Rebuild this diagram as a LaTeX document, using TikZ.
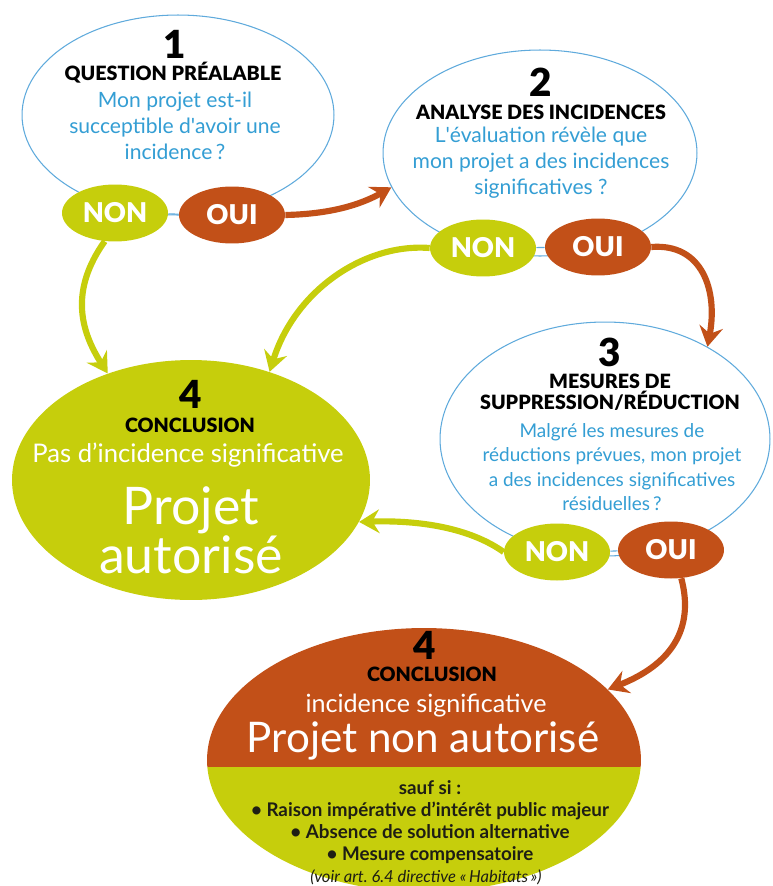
\documentclass[tikz,border=0pt]{standalone}
\usepackage{fontspec}
\setmainfont{Lato}
\newfontfamily\heavyfont{Lato Black}
\usetikzlibrary{positioning, shapes.geometric, arrows.meta, calc}

\definecolor{nongreen}{RGB}{198,206,12}
\definecolor{ouired}{RGB}{194,80,24}
\definecolor{lineblue}{RGB}{95,170,220}
\definecolor{askblue}{RGB}{52,158,212}
\definecolor{darktext}{RGB}{30,30,20}

\tikzset{
    question/.style={ellipse, draw=lineblue, line width=0.6pt, fill=white, inner sep=0pt},
    answer/.style={ellipse, text=white, inner sep=0pt, minimum width=2.12cm, minimum height=1.14cm, font=\heavyfont\fontsize{15.5}{15.5}\selectfont},
    nonbox/.style={answer, fill=nongreen},
    ouibox/.style={answer, fill=ouired},
    stepnum/.style={font=\heavyfont\fontsize{22}{22}\selectfont, inner sep=0pt, text depth=0pt},
    heading/.style={font=\heavyfont\fontsize{11.2}{11.8}\selectfont, align=center, inner sep=0pt},
    ask/.style={text=askblue, align=center, inner sep=0pt, font=\fontsize{12}{14.8}\selectfont},
    flow/.style={line width=3.5pt, -{Stealth[length=11.5pt, width=13.5pt, inset=4pt]}},
    flowgreen/.style={flow, draw=nongreen},
    flowred/.style={flow, draw=ouired},
    joinline/.style={draw=lineblue, line width=0.6pt}
}

\begin{document}
\begin{tikzpicture}[x=0.02cm, y=-0.02cm]
    \useasboundingbox (0,0) rectangle (772,886);

    %Question ellipses
    \node[question, minimum width=6.24cm, minimum height=4cm] (q1) at (178,115) {};
    \node[question, minimum width=6.28cm, minimum height=4.12cm] (q2) at (540,153) {};
    \node[question, minimum width=6.6cm, minimum height=4.68cm] (q3) at (605,439) {};

    %Conclusion: authorised
    \node[ellipse, fill=nongreen, minimum width=7.16cm, minimum height=4.8cm, inner sep=0pt] (ok) at (191,480) {};

    %Conclusion: not authorised
    \node[ellipse, minimum width=8.68cm, minimum height=5.28cm, inner sep=0pt] (no) at (424,760) {};
    \begin{scope}
        \clip (424,760) ellipse [x radius=4.34cm, y radius=2.64cm];
        \fill[ouired] (200,620) rectangle (650,767);
        \fill[nongreen] (200,767) rectangle (650,900);
    \end{scope}

    %Texts 1
    \node[stepnum] (num1) at (175,44) {1};
    \node[heading] (head1) at (173,73) {QUESTION PRÉALABLE};
    \node[ask] (ask1) at (175,126) {Mon projet est-il\\succeptible d\textquotesingle avoir une\\incidence\,?};

    %Texts 2
    \node[stepnum] (num2) at (541,82) {2};
    \node[heading] (head2) at (541,112) {ANALYSE DES INCIDENCES};
    \node[ask] (ask2) at (541,163) {L\textquotesingle évaluation révèle que\\mon projet a des incidences\\significatives ?};

    %Texts 3
    \node[stepnum] (num3) at (610,352) {3};
    \node[heading] (head3) at (610,392) {MESURES DE\\SUPPRESSION/RÉDUCTION};
    \node[ask, font=\fontsize{10.8}{13.9}\selectfont] (ask3) at (612,467) {Malgré les mesures de\\réductions prévues, mon projet\\a des incidences significatives\\résiduelles\,?};

    %Texts 4 (green)
    \node[stepnum] (num4a) at (191,394) {4};
    \node[heading] (head4a) at (190,425) {CONCLUSION};
    \node[text=white, inner sep=0pt, font=\fontsize{14.6}{16}\selectfont] (sub4a) at (188,455) {Pas d’incidence significative};
    \node[text=white, inner sep=0pt, align=center, font=\fontsize{29.5}{26}\selectfont] (big4a) at (191,530) {Projet\\autorisé};

    %Texts 4 (red)
    \node[stepnum] (num4b) at (425,645) {4};
    \node[heading] (head4b) at (432,674) {CONCLUSION};
    \node[text=white, inner sep=0pt, font=\fontsize{14.3}{16}\selectfont] (sub4b) at (426,706) {incidence significative};
    \node[text=white, inner sep=0pt, font=\fontsize{24}{24}\selectfont] (big4b) at (423,741) {Projet non autorisé};
    \node[text=darktext, inner sep=0pt, align=center, font=\bfseries\fontsize{10.7}{12.4}\selectfont] (unless) at (430,822)
        {sauf si :\\• Raison impérative d’intérêt public majeur\\• Absence de solution alternative\\• Mesure compensatoire};
    \node[text=darktext, inner sep=0pt, font=\itshape\fontsize{9.4}{10}\selectfont] (ref) at (426,877) {(voir art.\ 6.4 directive «\,Habitats\,»)};

    %Answers
    \node[nonbox] (non1) at (115,213) {NON};
    \node[ouibox] (oui1) at (232,215) {OUI};
    \node[nonbox] (non2) at (483,248) {NON};
    \node[ouibox] (oui2) at (598,247) {OUI};
    \node[nonbox] (non3) at (557,552) {NON};
    \node[ouibox] (oui3) at (671,550) {OUI};

    %Lines
    \draw[joinline] (non1) -- (oui1);
    \draw[joinline] (non2) -- (oui2);
    \draw[joinline] (non3) -- (oui3);

    \draw[flowred] (oui1.east) .. controls (330,214) and (360,205) .. (q2.193);
    \draw[flowred] (oui2.east) .. controls (702,243) and (718,290) .. (q3.42);
    \draw[flowred] (oui3.290) .. controls (695,630) and (670,665) .. (no.21);
    \draw[flowgreen] (non1.250) .. controls (70,290) and (80,330) .. (ok.128);
    \draw[flowgreen] (non2.west) .. controls (365,243) and (295,290) .. (ok.54);
    \draw[flowgreen] (non3.west) .. controls (470,528) and (420,520) .. (ok.346);
\end{tikzpicture}
\end{document}
